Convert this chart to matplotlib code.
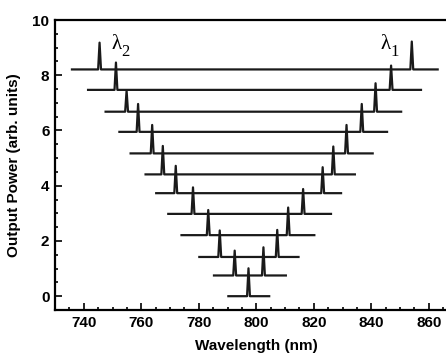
import matplotlib
matplotlib.use("Agg")
import matplotlib.pyplot as plt
from matplotlib.ticker import MultipleLocator

plt.rcParams['font.family'] = ['Liberation Sans', 'DejaVu Sans']

# one row per spectrum, bottom to top
baseline = [0.0, 0.75, 1.42, 2.21, 2.98, 3.73, 4.41, 5.17, 5.95, 6.68, 7.47, 8.21]
x_start = [790.3, 785.3, 780.2, 774.0, 769.4, 765.2, 761.5, 756.3, 752.4, 747.6, 741.5, 735.9]
x_end = [804.5, 810.3, 814.7, 820.2, 826.0, 829.5, 834.3, 840.5, 845.5, 850.4, 857.3, 863.1]
# short-wavelength peak (lambda2) and long-wavelength peak (lambda1)
lam2 = [797.3, 792.5, 787.3, 783.3, 778.0, 772.0, 767.5, 763.8, 758.9, 754.9, 751.2, 745.5]
lam2_top = [1.01, 1.65, 2.38, 3.12, 3.94, 4.72, 5.44, 6.20, 6.96, 7.44, 8.46, 9.18]
lam1 = [None, 802.5, 807.3, 811.1, 816.3, 823.1, 826.8, 831.4, 836.7, 841.5, 846.9, 854.1]
lam1_top = [None, 1.77, 2.40, 3.21, 3.88, 4.67, 5.42, 6.20, 6.96, 7.71, 8.35, 9.22]

fig = plt.figure(figsize=(4.46, 3.58), dpi=100)
ax = fig.add_axes([55/446, 48/358, 402.5/446, 290/358])

hw = 0.5  # half width of a spike, nm
for i in range(len(baseline)):
    b = baseline[i]
    peaks = [(lam2[i], lam2_top[i])]
    if lam1[i] is not None:
        peaks.append((lam1[i], lam1_top[i]))
    xs = [x_start[i]]
    ys = [b]
    for p, t in peaks:
        xs += [p - hw, p, p + hw]
        ys += [b, t, b]
    xs.append(x_end[i])
    ys.append(b)
    ax.plot(xs, ys, color='#1a1a1a', lw=1.6)

serif = ['Liberation Serif', 'DejaVu Serif']
for x0, sub in [(751.3, '2'), (845.0, '1')]:
    ax.text(x0, 9.1, 'λ', fontsize=15, family=serif, ha='center', va='center')
    ax.text(x0 + 1.7, 8.85, sub, fontsize=12, family=serif, ha='left', va='center')

ax.set_xlim(730, 870)
ax.set_ylim(-0.5, 10)
ax.xaxis.set_major_locator(MultipleLocator(20))
ax.xaxis.set_minor_locator(MultipleLocator(5))
ax.yaxis.set_major_locator(MultipleLocator(2))
ax.yaxis.set_minor_locator(MultipleLocator(0.5))
ax.tick_params(which='both', direction='in', width=1.2, top=False, right=False)
ax.tick_params(which='major', length=5, labelsize=11, pad=4)
ax.tick_params(which='minor', length=2.5)
for s in ax.spines.values():
    s.set_linewidth(1.6)
for lab in ax.get_xticklabels() + ax.get_yticklabels():
    lab.set_fontweight('bold')

ax.set_xlabel('Wavelength (nm)', fontsize=11, fontweight='bold', labelpad=7)
ax.set_ylabel('Output Power (arb. units)', fontsize=11, fontweight='bold', labelpad=8)

fig.savefig('out.png', dpi=100)
